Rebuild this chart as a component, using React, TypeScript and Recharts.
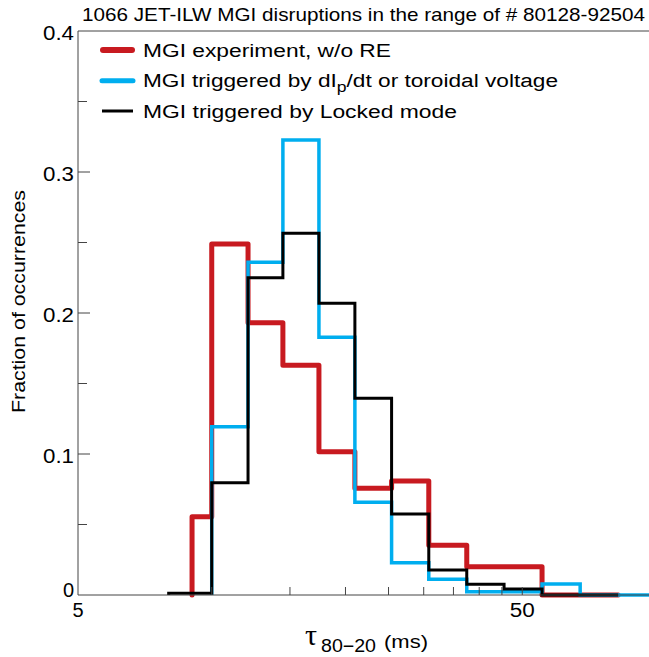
import { LineChart, Line, XAxis, YAxis, ReferenceLine } from "recharts";

const title = "1066 JET-ILW MGI disruptions in the range of # 80128-92504";

// bin edges of tau_80-20 (ms), log spaced
const binEdges = [8.0, 9.03, 10.0, 12.07, 14.46, 17.43, 21.0, 25.4, 30.8, 37.5, 45.5, 55.4, 67.5, 82.2, 100];

// fraction of occurrences per bin (null = series not drawn there)
const redFrac = [null, 0.0555, 0.249, 0.193, 0.163, 0.1016, 0.0757, 0.0809, 0.0352, 0.0201, 0.0201, 0, 0, null];
const blueFrac = [null, null, 0.1194, 0.236, 0.3227, 0.1828, 0.0657, 0.0229, 0.0111, 0.0023, 0.0023, 0.0078, 0, 0];
const blackFrac = [0.0012, 0.0012, 0.0796, 0.225, 0.2565, 0.2069, 0.1395, 0.0574, 0.0177, 0.0076, 0.0043, 0, 0, null];

const legendNames = [
  "MGI experiment, w/o RE",
  "MGI triggered by dI_p/dt or toroidal voltage",
  "MGI triggered by Locked mode",
];

const xTicks = [5, 10, 15, 20, 25, 30, 35, 40, 45, 50];
const xTickLabels: Record<number, string> = { 5: "5", 50: "50" };
const yTicks = [0, 0.05, 0.1, 0.15, 0.2, 0.25, 0.3, 0.35, 0.4];
const yTickLabels: Record<number, string> = { 0: "0", 0.1: "0.1", 0.2: "0.2", 0.3: "0.3", 0.4: "0.4" };

const RED = "#c81a20";
const BLUE = "#00aeef";
const BLACK = "#000000";
const AXIS = "#444";
const FONT = "'Liberation Sans', Arial, Helvetica, sans-serif";

// histogram -> stair points for a stepAfter line
function toSteps(frac: (number | null)[]) {
  const pts: { tau: number; frac: number }[] = [];
  let last = -1;
  frac.forEach((h, i) => {
    if (h == null) return;
    if (pts.length === 0) pts.push({ tau: binEdges[i], frac: 0 });
    pts.push({ tau: binEdges[i], frac: h });
    last = i;
  });
  pts.push({ tau: binEdges[last + 1], frac: frac[last] as number });
  return pts;
}

const XTick = ({ x, y, payload }: any) => {
  const label = xTickLabels[payload.value];
  return (
    <g>
      {payload.value !== 5 && <line x1={x} x2={x} y1={y} y2={y - 8} stroke={AXIS} />}
      {label && (
        <text
          x={x}
          y={y + 22}
          textAnchor="middle"
          fontSize={20}
          fontFamily={FONT}
          fill="#000"
          textLength={label.length > 1 ? 25 : undefined}
          lengthAdjust="spacingAndGlyphs"
        >
          {label}
        </text>
      )}
    </g>
  );
};

const YTick = ({ x, y, payload }: any) => {
  const v = Math.round(payload.value * 100) / 100;
  const label = yTickLabels[v];
  const major = label !== undefined;
  return (
    <g>
      {v !== 0 && v !== 0.4 && <line x1={x} x2={x + (major ? 12 : 9)} y1={y} y2={y} stroke={AXIS} />}
      {major && (
        <text
          x={x - 4}
          y={y + (v === 0 ? 2 : 9)}
          textAnchor="end"
          fontSize={20}
          fontFamily={FONT}
          fill="#000"
          textLength={label.length > 1 ? 31 : undefined}
          lengthAdjust="spacingAndGlyphs"
        >
          {label}
        </text>
      )}
    </g>
  );
};

export default function App() {
  const series = [
    { name: legendNames[0], data: toSteps(redFrac), color: RED, width: 5 },
    { name: legendNames[1], data: toSteps(blueFrac), color: BLUE, width: 3.5 },
    { name: legendNames[2], data: toSteps(blackFrac), color: BLACK, width: 3 },
  ];

  return (
    <div
      style={{
        position: "absolute",
        left: 0,
        top: 0,
        width: 649,
        height: 657,
        overflow: "hidden",
        background: "#fff",
      }}
    >
      <LineChart width={720} height={657} margin={{ top: 31, right: 64, bottom: 0, left: 0 }}>
        <XAxis
          dataKey="tau"
          type="number"
          scale="log"
          domain={[5, 100]}
          ticks={xTicks}
          interval={0}
          tickSize={0}
          tickMargin={0}
          tickLine={false}
          tick={<XTick />}
          height={62}
          stroke={AXIS}
        />
        <YAxis
          dataKey="frac"
          type="number"
          domain={[0, 0.4]}
          ticks={yTicks}
          interval={0}
          tickSize={0}
          tickMargin={0}
          tickLine={false}
          tick={<YTick />}
          width={78}
          stroke={AXIS}
        />
        <ReferenceLine y={0.4} stroke={AXIS} />
        {series.map((s) => (
          <Line
            key={s.name}
            data={s.data}
            dataKey="frac"
            type="stepAfter"
            stroke={s.color}
            strokeWidth={s.width}
            strokeLinejoin={s.color === RED ? "round" : "miter"}
            strokeLinecap={s.color === RED ? "round" : "butt"}
            dot={false}
            activeDot={false}
            isAnimationActive={false}
          />
        ))}
      </LineChart>

      <svg
        width={649}
        height={657}
        style={{ position: "absolute", left: 0, top: 0, pointerEvents: "none" }}
        fontFamily={FONT}
      >
        <text x={82} y={20.7} fontSize={18.6} textLength={563} lengthAdjust="spacingAndGlyphs">
          {title}
        </text>

        {/* legend */}
        <line x1={103} x2={132} y1={50} y2={50} stroke={RED} strokeWidth={6} strokeLinecap="round" />
        <text x={143} y={56.7} fontSize={18} textLength={248} lengthAdjust="spacingAndGlyphs">
          {legendNames[0]}
        </text>
        <line x1={102} x2={133} y1={80.7} y2={80.7} stroke={BLUE} strokeWidth={5} strokeLinecap="round" />
        <text x={143} y={87.3} fontSize={18} textLength={415} lengthAdjust="spacingAndGlyphs">
          MGI triggered by dI
          <tspan fontSize={14} dy={5}>p</tspan>
          <tspan dy={-5}>/dt or toroidal voltage</tspan>
        </text>
        <line x1={102} x2={133} y1={111} y2={111} stroke={BLACK} strokeWidth={3} />
        <text x={143} y={118.3} fontSize={18} textLength={314} lengthAdjust="spacingAndGlyphs">
          {legendNames[2]}
        </text>

        {/* axis labels */}
        <text
          transform="translate(25,301.5) rotate(-90)"
          textAnchor="middle"
          fontSize={18.6}
          textLength={223}
          lengthAdjust="spacingAndGlyphs"
        >
          Fraction of occurrences
        </text>
        <text x={305} y={645} fontSize={30} fontFamily="'Liberation Serif', 'DejaVu Serif', serif">
          τ
        </text>
        <text x={321} y={652} fontSize={18} textLength={55} lengthAdjust="spacingAndGlyphs">
          80−20
        </text>
        <text x={384} y={648} fontSize={18.5} textLength={44} lengthAdjust="spacingAndGlyphs">
          (ms)
        </text>
      </svg>
    </div>
  );
}
